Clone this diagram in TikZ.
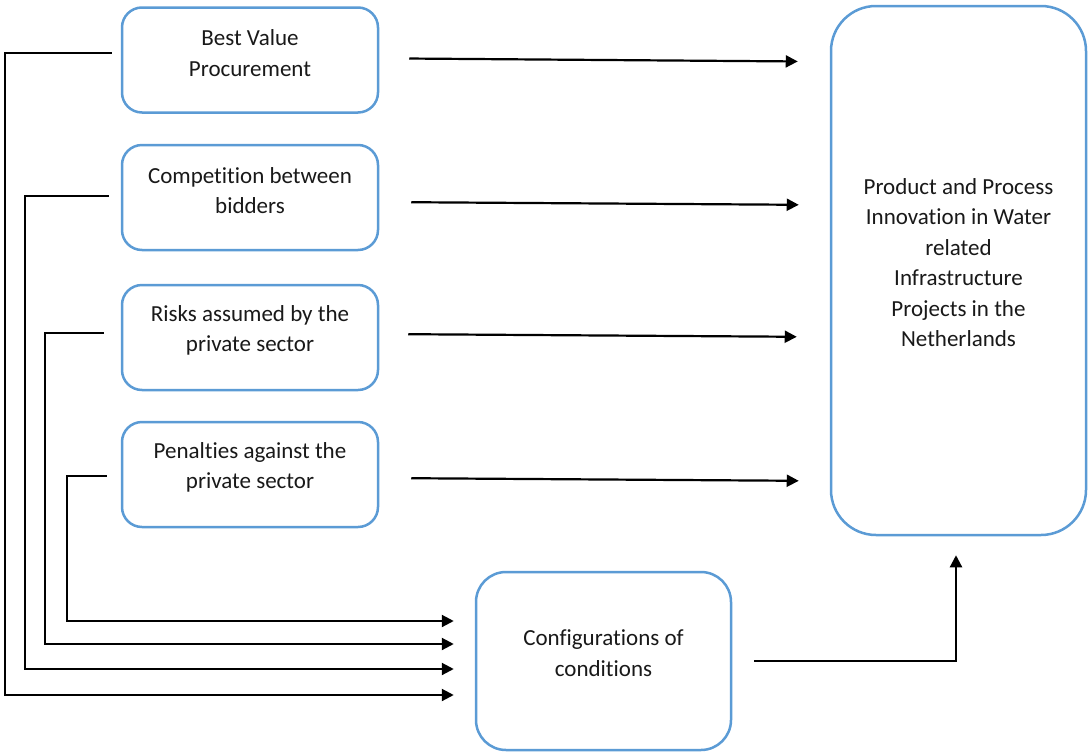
\documentclass[tikz,border=0pt]{standalone}
\usepackage{fontspec}
\setmainfont{Carlito}[RawFeature={-liga;-clig;-calt;-dlig}]
\usepackage{xcolor}
\usetikzlibrary{arrows.meta,calc,positioning}
\definecolor{boxblue}{HTML}{5B9BD5}
\tikzstyle{box}=[rectangle,rounded corners=20pt,draw=boxblue,line width=2.5pt,fill=white,minimum width=256pt,minimum height=105pt,inner sep=0pt]
\tikzstyle{txt}=[font=\fontsize{23}{30.5}\selectfont,align=center,text=black!90,yshift=7pt]
\tikzstyle{conn}=[draw,line width=2.2pt,-{Triangle[length=12pt,width=12pt]}]

\begin{document}
\begin{tikzpicture}[x=1pt,y=-1pt]
  \useasboundingbox (0,0) rectangle (1088,753);

  % factors on the left
  \foreach \y/\name/\label in {60/bvp/{Best Value\\Procurement}, 197.5/cbb/{Competition between\\bidders}, 337.5/risk/{Risks assumed by the\\private sector}, 474.5/pen/{Penalties against the\\private sector}}
    \node[box, label={[txt]center:\label}] (\name) at (250,\y) {};

  \node[box, minimum width=255pt, minimum height=529pt, rounded corners=45pt,
        label={[txt,yshift=1pt]center:Product and Process\\Innovation in Water\\related\\Infrastructure\\Projects in the\\Netherlands}] (innov) at (958.5,270.5) {};
  \node[box, minimum width=255pt, minimum height=178pt, rounded corners=30pt,
        label={[txt,yshift=1pt]center:Configurations of\\conditions}] (conf) at (603.5,661) {};

  % direct effects
  \foreach \name/\ya/\yb/\ga/\gb in {bvp/58.3/61.7/30/32, cbb/202/205/32/31, risk/334/337/29/33, pen/478/481/32/31}
    \path[conn, shorten <=\ga pt, shorten >=\gb pt] (\name.east |- 0,\ya) -- (innov.west |- 0,\yb);

  % into the configurations
  \foreach \name/\sy/\vx/\ey/\ga in {bvp/52.7/5/695/9, cbb/195.7/25/669/12, risk/333/45/644/17, pen/476/67/621/14}
    \path[conn, shorten <=\ga pt, shorten >=21pt] (\name.west |- 0,\sy) -| (\vx,\ey) -- (conf.west |- 0,\ey);

  \path[conn, shorten <=22pt, shorten >=19pt] (conf.east) -| ([xshift=-2.5pt]innov.south);

\end{tikzpicture}
\end{document}
